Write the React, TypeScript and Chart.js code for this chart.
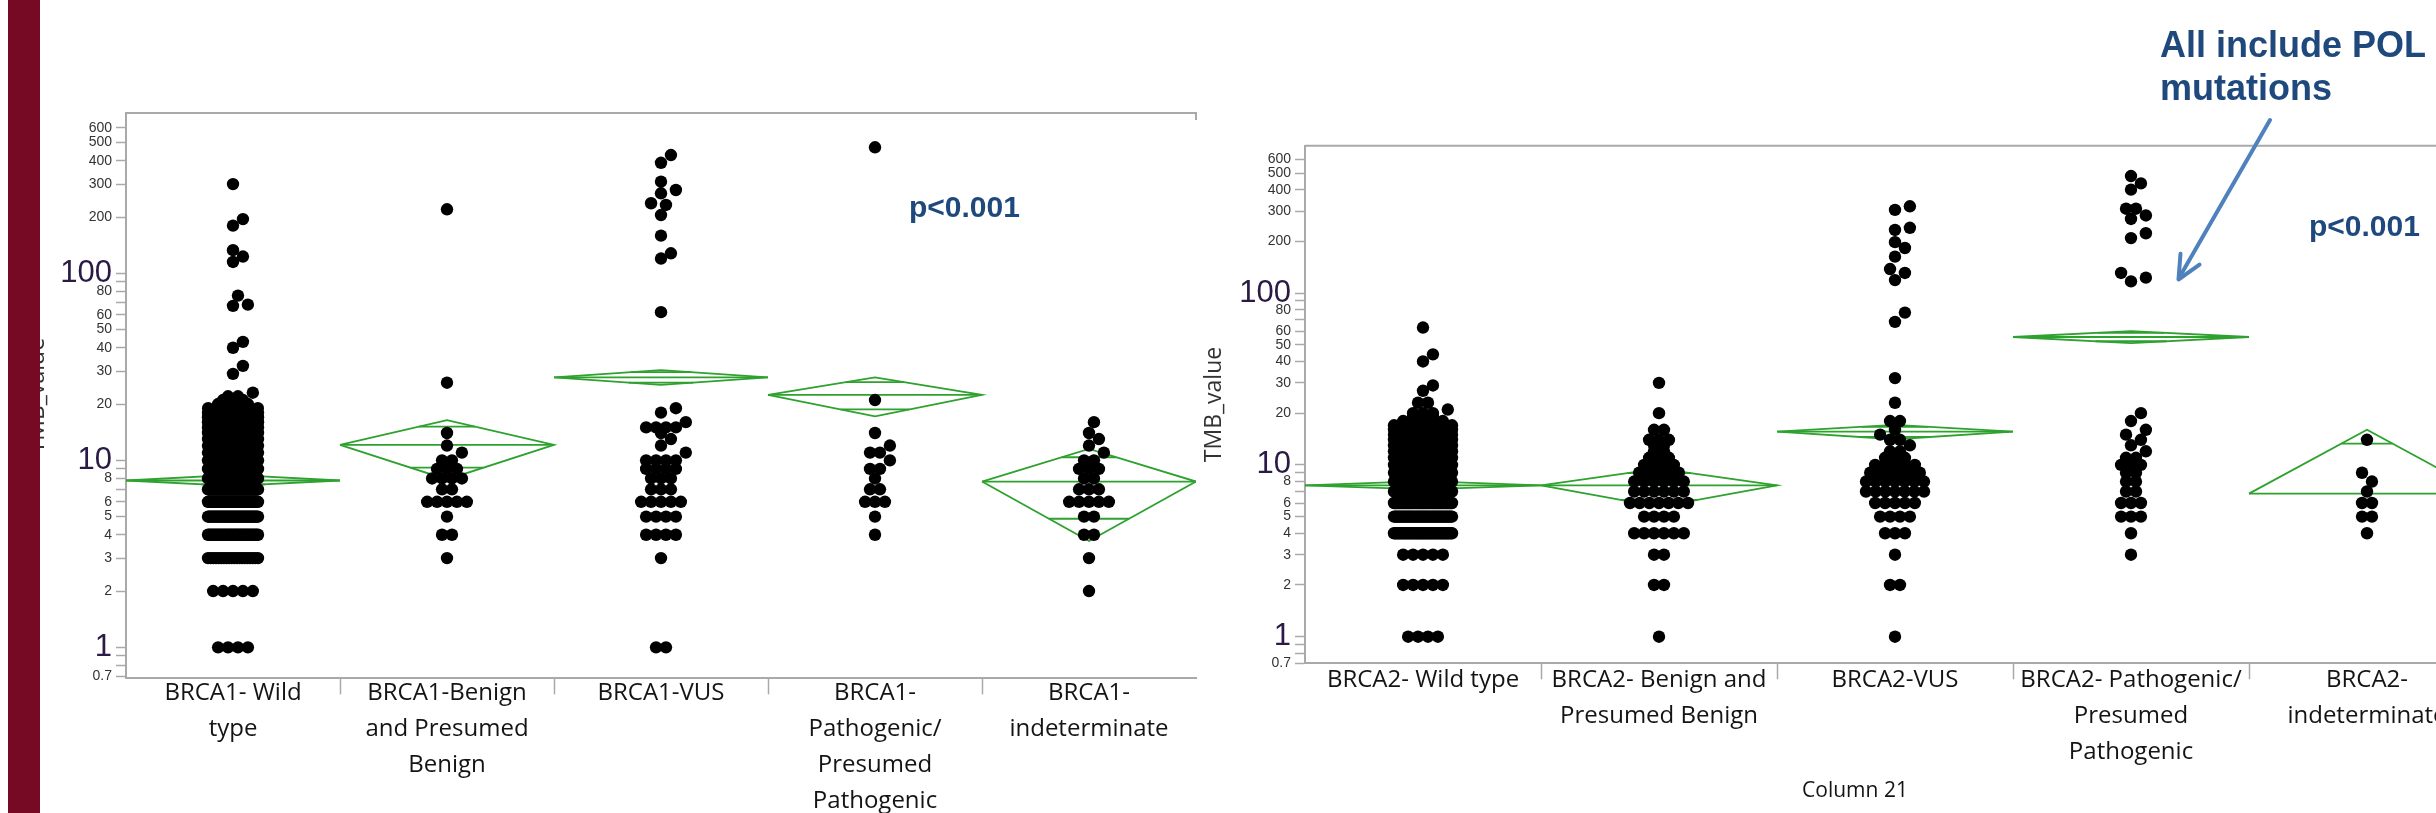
import React, { useEffect, useRef } from "react";
import { Chart, registerables } from "chart.js";

Chart.register(...registerables);

// ---------------- shared axis ticks ----------------
const yTickValues = [0.7, 0.8, 0.9, 1, 2, 3, 4, 5, 6, 7, 8, 9, 10, 20, 30, 40, 50, 60, 70, 80, 90, 100, 200, 300, 400, 500, 600];
const yTickLabelled = [0.7, 1, 2, 3, 4, 5, 6, 8, 10, 20, 30, 40, 50, 60, 80, 100, 200, 300, 400, 500, 600];
const yTickMajor = [1, 10, 100];
const xTickPositions = [0, 0.5, 1, 1.5, 2, 2.5, 3, 3.5, 4];

// ---------------- BRCA1 panel ----------------
const brca1Categories = [
  ["BRCA1- Wild", "type"],
  ["BRCA1-Benign", "and Presumed", "Benign"],
  ["BRCA1-VUS"],
  ["BRCA1-", "Pathogenic/", "Presumed", "Pathogenic"],
  ["BRCA1-", "indeterminate"],
];
const brca1WildValues = [1, 2, 3, 4, 5, 6, 7, 8, 9, 10, 11, 12, 13, 14, 15, 16, 17, 18, 19, 20, 21, 22, 23, 29, 32, 40, 43, 67, 68, 76, 115, 123, 133, 180, 195, 300];
const brca1WildCounts = [4, 5, 20, 35, 45, 55, 55, 55, 50, 45, 40, 35, 30, 25, 20, 16, 12, 9, 6, 4, 3, 2, 1, 1, 1, 1, 1, 1, 1, 1, 1, 1, 1, 1, 1, 1];
const brca1Benign = [220, 26, 14, 12, 11, 10, 10, 9, 9, 9, 8, 8, 8, 8, 7, 7, 6, 6, 6, 6, 6, 5, 4, 4, 3];
const brca1Vus = [429, 390, 309, 279, 268, 237, 232, 205, 159, 128, 120, 62, 19, 18, 16, 15, 15, 15, 15, 14, 13, 12, 11, 10, 10, 10, 10, 9, 9, 9, 9, 8, 8, 8, 7, 7, 7, 6, 6, 6, 6, 6, 5, 5, 5, 5, 4, 4, 4, 4, 3, 1, 1];
const brca1Path = [472, 21, 14, 12, 11, 11, 10, 9, 9, 8, 7, 7, 6, 6, 6, 5, 4];
const brca1Indet = [16, 14, 13, 12, 11, 10, 10, 9, 9, 9, 8, 8, 7, 7, 7, 6, 6, 6, 6, 6, 5, 5, 4, 4, 3, 2];
const brca1Means = [7.8, 12.1, 27.8, 22.4, 7.7];
const brca1Lower = [7.3, 7.9, 25.3, 17.2, 3.7];
const brca1Upper = [8.35, 16.4, 30.4, 27.8, 11.5];

// ---------------- BRCA2 panel ----------------
const brca2Categories = [
  ["BRCA2- Wild type"],
  ["BRCA2- Benign and", "Presumed Benign"],
  ["BRCA2-VUS"],
  ["BRCA2- Pathogenic/", "Presumed", "Pathogenic"],
  ["BRCA2-", "indeterminate"],
];
const brca2WildValues = [1, 2, 3, 4, 5, 6, 7, 8, 9, 10, 11, 12, 13, 14, 15, 16, 17, 18, 19, 20, 21, 23, 27, 29, 40, 44, 63];
const brca2WildCounts = [4, 5, 5, 40, 45, 55, 55, 55, 50, 45, 40, 35, 30, 25, 20, 14, 8, 5, 3, 3, 1, 2, 1, 1, 1, 1, 1];
const brca2Benign = [30, 20, 16, 16, 14, 14, 14, 13, 13, 12, 12, 11, 11, 11, 10, 10, 10, 10, 9, 9, 9, 9, 9, 8, 8, 8, 8, 8, 8, 7, 7, 7, 7, 7, 7, 6, 6, 6, 6, 6, 6, 6, 5, 5, 5, 5, 4, 4, 4, 4, 4, 4, 3, 3, 2, 2, 1];
const brca2Vus = [320, 305, 240, 233, 198, 183, 163, 138, 131, 119, 77, 68, 32, 23, 18, 18, 16, 15, 14, 14, 13, 12, 12, 11, 11, 11, 10, 10, 10, 10, 10, 9, 9, 9, 9, 9, 9, 8, 8, 8, 8, 8, 8, 8, 7, 7, 7, 7, 7, 7, 7, 6, 6, 6, 6, 6, 5, 5, 5, 5, 4, 4, 4, 3, 2, 2, 1];
const brca2Path = [480, 435, 400, 310, 310, 283, 270, 223, 209, 131, 123, 117, 20, 18, 16, 15, 14, 13, 12, 11, 11, 10, 10, 10, 9, 9, 8, 8, 7, 7, 6, 6, 6, 5, 5, 5, 4, 3];
const brca2Indet = [14, 9, 8, 7, 6, 6, 5, 5, 4];
const brca2Means = [7.6, 7.6, 15.6, 55.5, 6.8];
const brca2Lower = [7.2, 5.7, 14.1, 51.2, -2.4];
const brca2Upper = [8.05, 9.5, 17.1, 60.0, 16.0];

// ---------------- styling ----------------
const LABEL_FONT = "'Open Sans', 'Liberation Sans', sans-serif";
const NUM_FONT = "'Liberation Sans', Arial, sans-serif";
const AXIS_GRAY = "#a9a9a9";
const GREEN = "#2ea12e";
const NOTE_BLUE = "#1F497D";
const DOT_R = 6.2;
const DOT_D = DOT_R * 2;
const LABEL_SIZE = 24;
const LABEL_LINE = 36;
const X_TICK_LEN = 16;

function expand(values: number[], counts: number[]): number[] {
  const out: number[] = [];
  values.forEach((v, i) => {
    for (let k = 0; k < counts[i]; k++) out.push(v);
  });
  return out;
}

// beeswarm-like horizontal spread (in category units) computed from values
function swarmOffsets(vals: number[], dX: number, dY: number, maxHalf: number): number[] {
  const n = vals.length;
  const order = vals.map((_, i) => i).sort((a, b) => vals[a] - vals[b]);
  const out = new Array(n).fill(0);
  const placed: [number, number][] = [];
  const step = dX * 0.8;
  let k = 0;
  while (k < n) {
    let j = k;
    while (j < n && vals[order[j]] === vals[order[k]]) j++;
    const cnt = j - k;
    const ly = Math.log10(vals[order[k]]);
    if (cnt >= 2) {
      const s = Math.min(step, (2 * maxHalf) / (cnt - 1));
      for (let m = 0; m < cnt; m++) {
        const x = (m - (cnt - 1) / 2) * s;
        out[order[k + m]] = x;
        placed.push([x, ly]);
      }
    } else {
      const cands = [0];
      for (let q = 1; q * step * 0.5 <= maxHalf; q++) cands.push(q * step * 0.5, -q * step * 0.5);
      let best = 0;
      for (const c of cands) {
        const ok = placed.every(([px, py]) => ((c - px) / dX) ** 2 + ((ly - py) / dY) ** 2 >= 0.8);
        if (ok) {
          best = c;
          break;
        }
      }
      out[order[k]] = best;
      placed.push([best, ly]);
    }
    k = j;
  }
  return out;
}

interface Panel {
  canvasW: number;
  canvasH: number;
  areaLeft: number;
  areaRight: number;
  areaTop: number;
  areaBottom: number;
  yMin: number;
  yMax: number;
  categories: string[][];
  groups: number[][];
  means: number[];
  lower: number[];
  upper: number[];
  yTitle: string;
  titlePad: number;
  firstLineGap: number;
  maxHalfPx: number;
  cornerTick: boolean;
}

const LEFT_PANEL: Panel = {
  canvasW: 1230,
  canvasH: 813,
  areaLeft: 126,
  areaRight: 1196,
  areaTop: 113,
  areaBottom: 678.3,
  yMin: 0.683,
  yMax: 720,
  categories: brca1Categories,
  groups: [expand(brca1WildValues, brca1WildCounts), brca1Benign, brca1Vus, brca1Path, brca1Indet],
  means: brca1Means,
  lower: brca1Lower,
  upper: brca1Upper,
  yTitle: "TMB_value",
  titlePad: 23.9,
  firstLineGap: 15,
  maxHalfPx: 25,
  cornerTick: true,
};

const RIGHT_PANEL: Panel = {
  canvasW: 1360,
  canvasH: 813,
  areaLeft: 145,
  areaRight: 1325,
  areaTop: 145.7,
  areaBottom: 663.3,
  yMin: 0.706,
  yMax: 721,
  categories: brca2Categories,
  groups: [expand(brca2WildValues, brca2WildCounts), brca2Benign, brca2Vus, brca2Path, brca2Indet],
  means: brca2Means,
  lower: brca2Lower,
  upper: brca2Upper,
  yTitle: "TMB_value",
  titlePad: 40.2,
  firstLineGap: 17,
  maxHalfPx: 29,
  cornerTick: false,
};

function lineDs(data: { x: number; y: number }[]) {
  return {
    data,
    showLine: true,
    borderColor: GREEN,
    borderWidth: 1.8,
    pointRadius: 0,
    pointHoverRadius: 0,
    fill: false,
    tension: 0,
    order: 1,
  };
}

function buildChart(canvas: HTMLCanvasElement, p: Panel) {
  const catPx = (p.areaRight - p.areaLeft) / 5;
  const decPx = (p.areaBottom - p.areaTop) / Math.log10(p.yMax / p.yMin);
  const dX = DOT_D / catPx;
  const dY = DOT_D / decPx;
  const maxHalf = p.maxHalfPx / catPx;

  const pts: { x: number; y: number }[] = [];
  p.groups.forEach((g, i) => {
    const offs = swarmOffsets(g, dX, dY, maxHalf);
    g.forEach((v, j) => pts.push({ x: i + offs[j], y: v }));
  });

  const datasets: any[] = [
    {
      data: pts,
      showLine: false,
      pointRadius: DOT_R,
      pointHoverRadius: DOT_R,
      pointBackgroundColor: "#000",
      pointBorderColor: "#000",
      pointBorderWidth: 0,
      order: 0,
    },
  ];

  p.means.forEach((m, i) => {
    const up = p.upper[i];
    const lo = p.lower[i];
    const xL = i - 0.5;
    const xR = i + 0.5;
    if (lo > 0) {
      datasets.push(lineDs([{ x: xL, y: m }, { x: i, y: up }, { x: xR, y: m }, { x: i, y: lo }, { x: xL, y: m }]));
    } else {
      datasets.push(lineDs([{ x: xL, y: m }, { x: i, y: up }, { x: xR, y: m }]));
    }
    datasets.push(lineDs([{ x: xL, y: m }, { x: xR, y: m }]));
    const yu = m + (up - m) / Math.SQRT2;
    const tu = Math.log(yu / m) / Math.log(up / m);
    const hu = 0.5 * (1 - tu);
    datasets.push(lineDs([{ x: i - hu, y: yu }, { x: i + hu, y: yu }]));
    if (lo > 0) {
      const yl = m - (m - lo) / Math.SQRT2;
      const tl = Math.log(m / yl) / Math.log(m / lo);
      const hl = 0.5 * (1 - tl);
      datasets.push(lineDs([{ x: i - hl, y: yl }, { x: i + hl, y: yl }]));
    }
  });

  const frame = {
    id: "frameTop",
    afterDraw(chart: any) {
      const { ctx, chartArea } = chart;
      ctx.save();
      ctx.strokeStyle = AXIS_GRAY;
      ctx.lineWidth = 2;
      ctx.beginPath();
      ctx.moveTo(chartArea.left, chartArea.top);
      ctx.lineTo(chartArea.right, chartArea.top);
      if (p.cornerTick) ctx.lineTo(chartArea.right, chartArea.top + 7);
      ctx.stroke();
      ctx.restore();
    },
  };

  return new Chart(canvas, {
    type: "scatter",
    data: { datasets },
    plugins: [frame],
    options: {
      responsive: false,
      maintainAspectRatio: false,
      animation: false,
      devicePixelRatio: 1,
      events: [],
      layout: {
        padding: { left: 0, top: p.areaTop, right: p.canvasW - p.areaRight, bottom: 0 },
      },
      plugins: { legend: { display: false }, tooltip: { enabled: false } },
      scales: {
        x: {
          type: "linear",
          min: -0.5,
          max: 4.5,
          afterBuildTicks: (s: any) => {
            s.ticks = xTickPositions.map((v) => ({ value: v }));
          },
          afterFit: (s: any) => {
            s.height = p.canvasH - p.areaBottom;
          },
          grid: {
            drawOnChartArea: false,
            drawTicks: true,
            tickLength: X_TICK_LEN,
            tickWidth: 1.5,
            tickColor: (ctx: any) => (ctx.tick && Number.isInteger(ctx.tick.value) ? "rgba(0,0,0,0)" : AXIS_GRAY),
          },
          border: { display: true, color: AXIS_GRAY, width: 2 },
          ticks: {
            autoSkip: false,
            maxRotation: 0,
            minRotation: 0,
            padding: p.firstLineGap - LABEL_LINE / 2 - X_TICK_LEN,
            color: "#141414",
            font: { family: LABEL_FONT, size: LABEL_SIZE, lineHeight: LABEL_LINE / LABEL_SIZE },
            callback: (v: any) => (Number.isInteger(v) ? p.categories[v] : ""),
          },
        },
        y: {
          type: "logarithmic",
          min: p.yMin,
          max: p.yMax,
          afterBuildTicks: (s: any) => {
            s.ticks = yTickValues.map((v) => ({ value: v }));
          },
          afterFit: (s: any) => {
            s.width = p.areaLeft;
          },
          grid: {
            drawOnChartArea: false,
            drawTicks: true,
            tickLength: 10,
            tickWidth: 1.5,
            tickColor: AXIS_GRAY,
          },
          border: { display: true, color: AXIS_GRAY, width: 2 },
          title: {
            display: true,
            text: p.yTitle,
            color: "#333",
            font: { family: LABEL_FONT, size: 23 },
            padding: { top: p.titlePad, bottom: 0 },
          },
          ticks: {
            autoSkip: false,
            padding: 4,
            color: (ctx: any) => (ctx.tick && yTickMajor.includes(ctx.tick.value) ? "#2a1a45" : "#333"),
            font: (ctx: any) =>
              ctx.tick && yTickMajor.includes(ctx.tick.value)
                ? { family: NUM_FONT, size: 31 }
                : { family: NUM_FONT, size: 14 },
            callback: (v: any) => (yTickLabelled.includes(v) ? String(v) : ""),
          },
        },
      },
    } as any,
  });
}

export default function App() {
  const leftRef = useRef<HTMLCanvasElement>(null);
  const rightRef = useRef<HTMLCanvasElement>(null);

  useEffect(() => {
    const c1 = buildChart(leftRef.current as HTMLCanvasElement, LEFT_PANEL);
    const c2 = buildChart(rightRef.current as HTMLCanvasElement, RIGHT_PANEL);
    return () => {
      c1.destroy();
      c2.destroy();
    };
  }, []);

  const noteFont = "'Liberation Sans', Arial, sans-serif";

  return (
    <div
      style={{
        position: "fixed",
        left: 0,
        top: 0,
        width: 2436,
        height: 813,
        overflow: "hidden",
        background: "#fff",
      }}
    >
      <canvas
        ref={leftRef}
        width={LEFT_PANEL.canvasW}
        height={LEFT_PANEL.canvasH}
        style={{ position: "absolute", left: 0, top: 0, width: LEFT_PANEL.canvasW, height: LEFT_PANEL.canvasH }}
      />
      <canvas
        ref={rightRef}
        width={RIGHT_PANEL.canvasW}
        height={RIGHT_PANEL.canvasH}
        style={{ position: "absolute", left: 1160, top: 0, width: RIGHT_PANEL.canvasW, height: RIGHT_PANEL.canvasH }}
      />
      <div style={{ position: "absolute", left: 8, top: 0, width: 32, height: 813, background: "#760a24" }} />
      <div
        style={{
          position: "absolute",
          left: 909,
          top: 191.6,
          fontFamily: noteFont,
          fontWeight: 700,
          fontSize: 30,
          lineHeight: "30px",
          color: NOTE_BLUE,
          whiteSpace: "nowrap",
        }}
      >
        {"p<0.001"}
      </div>
      <div
        style={{
          position: "absolute",
          left: 2309,
          top: 210.6,
          fontFamily: noteFont,
          fontWeight: 700,
          fontSize: 30,
          lineHeight: "30px",
          color: NOTE_BLUE,
          whiteSpace: "nowrap",
        }}
      >
        {"p<0.001"}
      </div>
      <div
        style={{
          position: "absolute",
          left: 2160,
          top: 22.7,
          fontFamily: noteFont,
          fontWeight: 700,
          fontSize: 36,
          lineHeight: "43px",
          color: NOTE_BLUE,
          whiteSpace: "nowrap",
        }}
      >
        All include POL
        <br />
        mutations
      </div>
      <div
        style={{
          position: "absolute",
          left: 1855,
          top: 776,
          transform: "translateX(-50%)",
          fontFamily: LABEL_FONT,
          fontSize: 21,
          lineHeight: "26px",
          color: "#141414",
          whiteSpace: "nowrap",
        }}
      >
        Column 21
      </div>
      <svg
        width={2436}
        height={813}
        style={{ position: "absolute", left: 0, top: 0, pointerEvents: "none" }}
      >
        <line x1={2270} y1={120} x2={2179} y2={278} stroke="#4F81BD" strokeWidth={4} strokeLinecap="round" />
        <polyline
          points="2180.5,253.7 2178.5,279.5 2199.5,264.7"
          fill="none"
          stroke="#4F81BD"
          strokeWidth={4}
          strokeLinecap="round"
          strokeLinejoin="round"
        />
      </svg>
    </div>
  );
}
